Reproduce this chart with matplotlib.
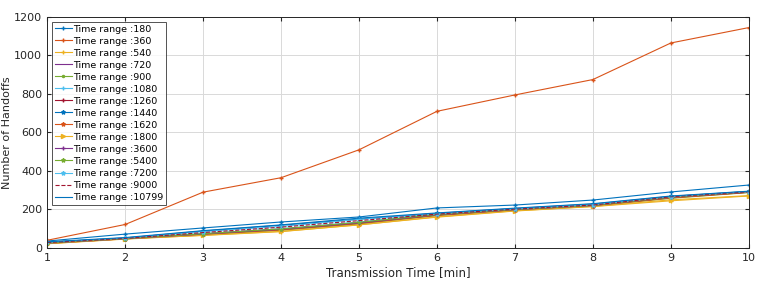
import matplotlib
matplotlib.use("Agg")
import matplotlib.pyplot as plt
import numpy as np

# transmission time (min)
times = [1, 2, 3, 4, 5, 6, 7, 8, 9, 10]

labels = ["180", "360", "540", "720", "900", "1080", "1260", "1440",
          "1620", "1800", "3600", "5400", "7200", "9000", "10799"]

h_180 = [36, 72, 104, 135, 161, 208, 223, 249, 291, 327]
h_360 = [40, 122, 290, 365, 510, 710, 795, 875, 1065, 1145]
h_540 = [22, 48, 65, 85, 120, 160, 192, 215, 245, 270]
h_720 = [25, 48, 70, 95, 128, 170, 198, 220, 262, 290]
h_900 = [24, 48, 68, 92, 125, 168, 196, 218, 258, 288]
h_1080 = [26, 50, 75, 100, 135, 175, 200, 220, 265, 292]
h_1260 = [25, 48, 72, 98, 130, 172, 198, 219, 262, 290]
h_1440 = [30, 52, 88, 118, 150, 180, 205, 228, 268, 294]
h_1620 = [24, 47, 70, 94, 127, 170, 197, 218, 260, 289]
h_1800 = [22, 46, 66, 86, 120, 162, 193, 216, 250, 272]
h_3600 = [25, 48, 72, 97, 130, 172, 199, 220, 263, 291]
h_5400 = [26, 49, 74, 99, 133, 174, 200, 221, 264, 292]
h_7200 = [30, 52, 85, 112, 148, 178, 203, 225, 267, 293]
h_9000 = [28, 50, 80, 108, 142, 176, 202, 223, 266, 292]
h_10799 = [32, 54, 90, 120, 155, 182, 207, 230, 270, 295]

series = [h_180, h_360, h_540, h_720, h_900, h_1080, h_1260, h_1440,
          h_1620, h_1800, h_3600, h_5400, h_7200, h_9000, h_10799]

colors = ["#0072BD", "#D95319", "#EDB120", "#7E2F8E", "#77AC30", "#4DBEEE", "#A2142F"]
markers = ["+", "+", "+", "", ".", "+", "+", "*", "*", ">", "+", "*", "*", "", ""]
styles = ["-"] * 13 + ["--", "-"]

fig = plt.figure(figsize=(7.61, 2.88), dpi=100)
ax = fig.add_axes([0.062, 0.139, 0.922, 0.802])

for i, (lab, y) in enumerate(zip(labels, series)):
    ax.plot(times, y, color=colors[i % 7], marker=markers[i] if markers[i] else None,
            markersize=3, linewidth=0.8, linestyle=styles[i],
            label=f"Time range :{lab}")

ax.set_xlim(1, 10)
ax.set_ylim(0, 1200)
ax.set_xticks(range(1, 11))
ax.set_yticks(range(0, 1201, 200))
ax.grid(True, color="#d9d9d9", linewidth=0.7)
ax.tick_params(direction="in", labelsize=8, colors="#262626", length=3, top=True, right=True,
               labeltop=False, labelright=False)
for s in ax.spines.values():
    s.set_color("#262626")
    s.set_linewidth(0.7)
ax.set_xlabel("Transmission Time [min]", fontsize=8.5, color="#262626", labelpad=2)
ax.set_ylabel("Number of Handoffs", fontsize=8, color="#262626")
ax.yaxis.set_label_coords(-0.05, 0.5)

leg = ax.legend(loc="upper left", fontsize=6.8, frameon=True, fancybox=False,
                edgecolor="#262626", borderpad=0.3, labelspacing=0.32,
                handlelength=1.8, handletextpad=0.1, borderaxespad=0.5)
leg.get_frame().set_linewidth(0.7)

fig.savefig("out.png", dpi=100)
